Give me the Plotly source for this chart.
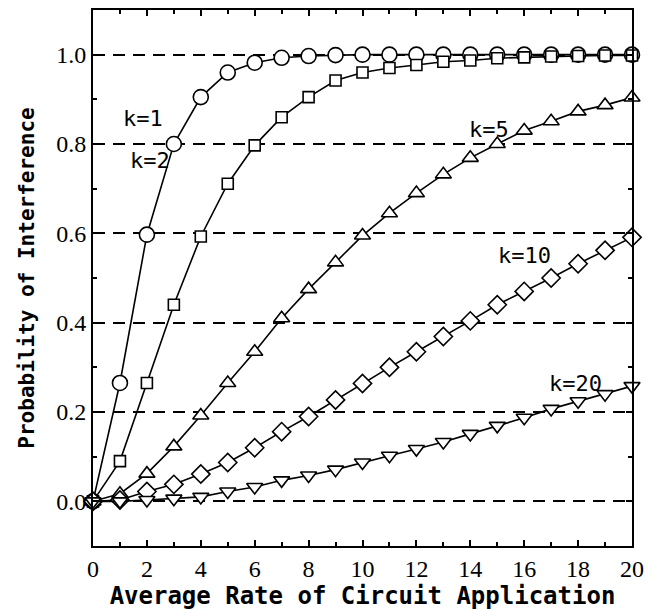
import plotly.graph_objects as go

x_rate = list(range(21))
k1 = [0, 0.265, 0.597, 0.80, 0.905, 0.96, 0.982, 0.993, 0.997, 0.999, 1.0,
      1.0, 1.0, 1.0, 1.0, 1.0, 1.0, 1.0, 1.0, 1.0, 1.0]
k2 = [0, 0.09, 0.265, 0.44, 0.593, 0.711, 0.797, 0.86, 0.905, 0.942, 0.96,
      0.97, 0.977, 0.984, 0.987, 0.992, 0.994, 0.996, 0.997, 0.998, 0.998]
k5 = [0, 0.017, 0.062, 0.123, 0.192, 0.265, 0.335, 0.41, 0.475, 0.535, 0.595,
      0.645, 0.69, 0.732, 0.769, 0.80, 0.83, 0.851, 0.873, 0.887, 0.904]
k10 = [0, 0.003, 0.022, 0.038, 0.061, 0.087, 0.12, 0.156, 0.19, 0.227, 0.264,
       0.3, 0.335, 0.369, 0.404, 0.44, 0.47, 0.5, 0.532, 0.562, 0.591]
k20 = [0, 0.0, 0.003, 0.006, 0.01, 0.022, 0.032, 0.047, 0.058, 0.071, 0.087,
       0.102, 0.117, 0.133, 0.151, 0.169, 0.187, 0.207, 0.224, 0.24, 0.258]

series = [("k=1", k1, "circle", 15), ("k=2", k2, "square", 11),
          ("k=5", k5, "triangle-up", 14), ("k=10", k10, "diamond", 14),
          ("k=20", k20, "triangle-down", 14)]

labels = ["k=1", "k=2", "k=5", "k=10", "k=20"]
label_x = [1.86, 2.12, 14.7, 16.0, 17.9]
label_y = [0.858, 0.762, 0.833, 0.551, 0.264]

x_ticks = list(range(0, 21, 2))
y_ticks = [0.0, 0.2, 0.4, 0.6, 0.8, 1.0]
y_tick_text = ["0.0", "0.2", "0.4", "0.6", "0.8", "1.0"]

fig = go.Figure()
for name, ys, sym, sz in series:
    fig.add_trace(go.Scatter(
        x=x_rate, y=ys, mode="lines+markers", name=name,
        line=dict(color="black", width=1.6),
        marker=dict(symbol=sym, size=sz, color="white",
                    line=dict(color="black", width=1.6)),
        cliponaxis=False, showlegend=False))

for t, lx, ly in zip(labels, label_x, label_y):
    fig.add_annotation(x=lx, y=ly, text=t, showarrow=False,
                       font=dict(family="DejaVu Sans Mono", size=22, color="black"))

axis_common = dict(showline=True, linecolor="black", linewidth=2, mirror="allticks",
                   ticks="inside", tickcolor="black", ticklen=6, tickwidth=1.5,
                   zeroline=False)

fig.update_xaxes(range=[0, 20], tickvals=x_ticks, showgrid=False,
                 tickfont=dict(family="Liberation Serif", size=24, color="black"),
                 minor=dict(dtick=1, ticks="inside", ticklen=4, tickcolor="black", tickwidth=1.5),
                 title=dict(text="Average Rate of Circuit Application",
                            font=dict(family="DejaVu Sans Mono", size=24, color="black", weight="bold"),
                            standoff=3),
                 **axis_common)
fig.update_yaxes(range=[-0.1, 1.1], tickvals=y_ticks, ticktext=y_tick_text,
                 showgrid=True, gridcolor="black", gridwidth=1.5, griddash="12px,8px",
                 tickfont=dict(family="Liberation Serif", size=24, color="black"),
                 minor=dict(dtick=0.1, tick0=0, ticks="inside", ticklen=4, tickcolor="black",
                            tickwidth=1.5, showgrid=False),
                 title=dict(text="Probability of Interference",
                            font=dict(family="DejaVu Sans Mono", size=21, color="black", weight="bold"),
                            standoff=16),
                 **axis_common)

# page body has an 8px margin, so the figure is shrunk by 8px and margins compensate
fig.update_layout(width=645, height=602, paper_bgcolor="white", plot_bgcolor="white",
                  margin=dict(l=85, r=21, t=0, b=64))

fig.write_html("out.html")
